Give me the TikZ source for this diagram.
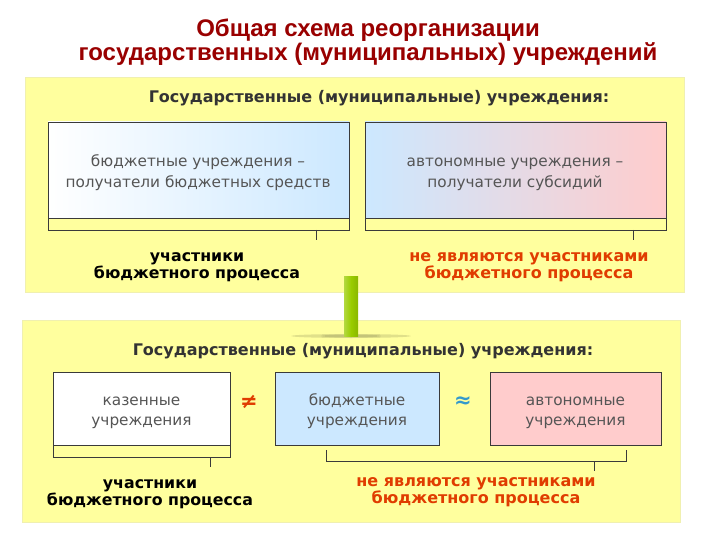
\documentclass[tikz,border=0pt]{standalone}
\usepackage{fontspec}
\setmainfont{DejaVu Sans}
\newfontfamily\titlefont{Liberation Sans}
\definecolor{panelY}{HTML}{FFFF9E}
\definecolor{panelB}{HTML}{F0F0B0}
\definecolor{titleR}{HTML}{990000}
\definecolor{hdr}{HTML}{333333}
\definecolor{bodyT}{HTML}{555555}
\definecolor{lblue}{HTML}{CCE8FF}
\definecolor{lpink}{HTML}{FFCCCC}
\definecolor{redO}{HTML}{E03C00}
\definecolor{gbar}{HTML}{99CC00}
\definecolor{apx}{HTML}{3399CC}
\definecolor{edge}{HTML}{3A3A3A}
\tikzset{
  panel/.style={fill=panelY, draw=panelB, line width=0.8pt},
  hdrtext/.style={font=\bfseries\fontsize{16}{18}\selectfont, text=hdr},
  bodytext/.style={font=\fontsize{15.3}{21}\selectfont, text=bodyT, align=center},
  smallbox/.style={draw=edge, line width=0.9pt, minimum height=73pt, inner sep=0pt},
  boxline/.style={draw=edge, line width=0.9pt},
  tick/.style={draw=edge, line width=0.9pt},
  blacklbl/.style={font=\bfseries\fontsize{15.8}{17}\selectfont, align=center, text=black},
  redlbl/.style={font=\bfseries\fontsize{16}{17}\selectfont, align=center, text=redO},
}
\begin{document}
\begin{tikzpicture}[x=1pt,y=-1pt]
\useasboundingbox (0,0) rectangle (720,540);
% title
\node[font=\titlefont\bfseries\fontsize{24}{21}\selectfont, text=titleR, align=center] (title) at (368,42)
  {Общая схема реорганизации\\государственных (муниципальных) учреждений};
% top panel
\path[panel] (25,77) rectangle (684,292);
\node[hdrtext] (h1) at (379,98) {Государственные (муниципальные) учреждения:};
\shade[left color=white, right color=lblue] (48,122) rectangle (349,218);
\draw[boxline] (48,122) rectangle (349,218);
\draw[boxline] (48,218) rectangle (349,230);
\node[bodytext] (b1) at (198,173) {\vphantom{б}бюджетные учреждения –\\получатели бюджетных средств};
\coordinate (t1a) at (316,230);
\coordinate (t1b) at (316,240);
\draw[tick] (t1a) -- (t1b);
\node[blacklbl] (l1) at (197,267) {участники\\бюджетного процесса};
\shade[left color=lblue, right color=lpink] (365,122) rectangle (666,218);
\draw[boxline] (365,122) rectangle (666,218);
\draw[boxline] (365,218) rectangle (666,230);
\node[bodytext] (b2) at (515,173) {\vphantom{б}автономные учреждения –\\получатели субсидий};
\coordinate (t2a) at (633,230);
\coordinate (t2b) at (633,240);
\draw[tick] (t2a) -- (t2b);
\node[redlbl] (l2) at (529,267) {не являются участниками\\бюджетного процесса};
% bottom panel
\path[panel] (22,320) rectangle (680,522);
% green bar with shadow
\fill[black, opacity=0.12] (351,336) ellipse (60 and 2);
\fill[black, opacity=0.12] (351,336) ellipse (30 and 1.5);
\shade[left color=gbar!75!white, right color=gbar!90!black, middle color=gbar] (344,276) rectangle (358,336);
\node[hdrtext] (h2) at (363,351) {Государственные (муниципальные) учреждения:};
\node[smallbox, fill=white, minimum width=177pt] (k) at (141.5,408.5) {};
\node[bodytext, font=\fontsize{15.3}{20}\selectfont] (kt) at (141.5,411) {\vphantom{б}казенные\\учреждения};
\draw[boxline] (53,445) rectangle (230,457);
\coordinate (t3a) at (210,457);
\coordinate (t3b) at (210,467);
\draw[tick] (t3a) -- (t3b);
\node[blacklbl] (l3) at (150,494) {участники\\бюджетного процесса};
\node[smallbox, fill=lblue, minimum width=164pt] (bu) at (357,408.5) {};
\node[bodytext, font=\fontsize{15.3}{20}\selectfont] (but) at (357,411) {\vphantom{б}бюджетные\\учреждения};
\node[smallbox, fill=lpink, minimum width=171pt] (au) at (575.5,408.5) {};
\node[bodytext, font=\fontsize{15.3}{20}\selectfont] (aut) at (575.5,411) {\vphantom{б}автономные\\учреждения};
\node[font=\bfseries\fontsize{21}{21}\selectfont, text=redO] (ne) at (249,402) {≠};
\node[font=\bfseries\fontsize{21}{21}\selectfont, text=apx] (ap) at (463,402) {≈};
\coordinate (br1) at (326,450);
\coordinate (br2) at (326,461);
\coordinate (br3) at (626,461);
\coordinate (br4) at (626,450);
\draw[tick] (br1) -- (br2) -- (br3) -- (br4);
\coordinate (t4a) at (594,461);
\coordinate (t4b) at (594,471);
\draw[tick] (t4a) -- (t4b);
\node[redlbl] (l4) at (476,492) {не являются участниками\\бюджетного процесса};
\end{tikzpicture}
\end{document}
